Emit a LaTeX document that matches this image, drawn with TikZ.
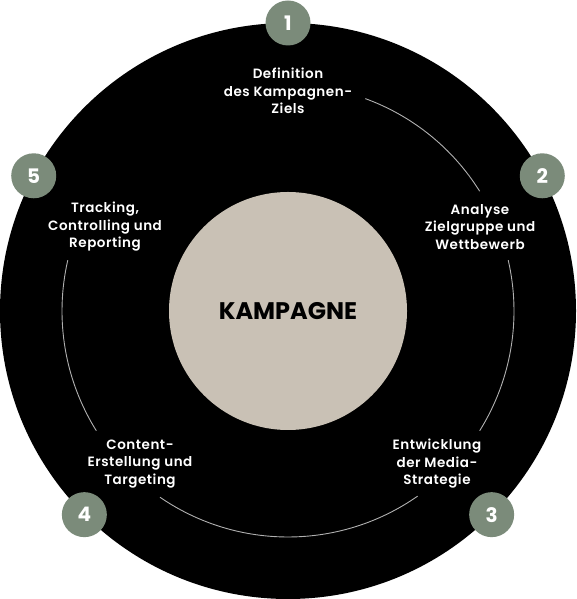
\documentclass[tikz,border=0pt]{standalone}
\usepackage{fontspec}
\setmainfont{Poppins}
\newfontfamily\lblfont{Poppins}[UprightFont=* SemiBold,LetterSpace=4]
\usepackage{tikz}
\definecolor{ringc}{HTML}{000000}
\definecolor{corec}{HTML}{C9C1B5}
\definecolor{stepc}{HTML}{7B8B7A}
\definecolor{arcc}{HTML}{B0B0B0}

\begin{document}
\begin{tikzpicture}[x=1pt,y=1pt,
  badge/.style={circle,fill=stepc,minimum size=45pt,inner sep=0pt,text=white,
    font=\fontsize{20}{20}\selectfont\bfseries},
  lbl/.style={align=center,text=white,font=\lblfont\fontsize{13.5}{17.5}\selectfont}]
  \useasboundingbox (0,0) rectangle (576,599);
  \fill[ringc] (288,288) circle (288);
  \node[circle,fill=corec,minimum size=238pt,inner sep=0pt,
    font=\fontsize{24}{24}\selectfont\bfseries] (core) at (288,288) {KAMPAGNE};
  % thin arcs between the steps
  \foreach \a/\b in {70/32,13/-32,-55/-124.5,-148/-193}
    \draw[arcc,line width=0.9pt] ([shift={(\a:226)}]core.center) arc[start angle=\a,end angle=\b,radius=226];
  \foreach \ang [count=\i] in {90,28,-45,225,152}
    \node[badge] (b\i) at ([shift={(\ang:288)}]core.center) {\i};
  \node[lbl] (def) at (288,508) {Definition\\des Kampagnen-\\Ziels};
  \node[lbl] (ana) at (480,372) {Analyse\\Zielgruppe und\\Wettbewerb};
  \node[lbl] (ent) at (437,135) {Entwicklung\\der Media-\\Strategie};
  \node[lbl] (con) at (140,135) {Content-\\Erstellung und\\Targeting};
  \node[lbl] (tra) at (105,372) {Tracking,\\Controlling und\\Reporting};
\end{tikzpicture}
\end{document}
